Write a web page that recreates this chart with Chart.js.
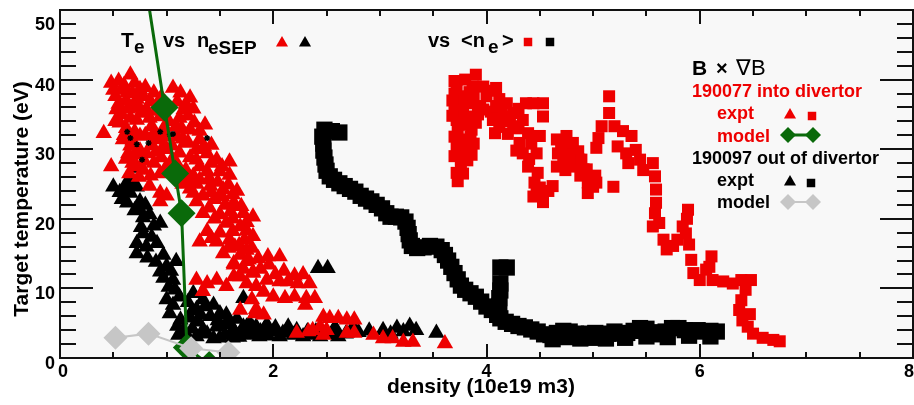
<!DOCTYPE html>
<html>
<head>
<meta charset="utf-8">
<script src="https://cdn.jsdelivr.net/npm/chart.js@4.4.1/dist/chart.umd.min.js"></script>
<style>
  html, body { margin: 0; padding: 0; background: #fff; }
  #box { width: 914px; height: 405px; }
</style>
</head>
<body>
<div id="box"><canvas id="tempChart" width="914" height="405"></canvas></div>
<script>
// axis ticks
const xTicks = [0, 2, 4, 6, 8];
const yTicks = [0, 10, 20, 30, 40, 50];

// 190077 (into divertor), Te vs neSEP
const red077Sep = [
  [0.48,39.5],[0.55,39.8],[0.66,40.7],[0.58,38.6],[0.70,39.5],[0.75,38.6],[0.52,37.6],[0.63,38.1],[0.78,37.6],[0.88,38.1],
  [1.06,38.8],[1.13,38.1],[1.22,37.4],[0.95,37.5],[0.62,37.0],[0.72,37.2],[0.85,36.8],[0.53,35.7],[0.69,36.2],[0.81,35.7],
  [0.94,34.7],[1.16,35.7],[0.58,35.0],[0.66,34.5],[0.77,35.2],[0.90,35.5],[1.02,34.0],[1.12,34.5],[1.20,34.8],[0.41,32.3],
  [0.56,33.8],[0.72,34.2],[0.86,33.3],[0.59,31.4],[0.75,31.9],[0.91,31.4],[1.09,33.3],[1.22,32.8],[1.31,32.6],[1.17,30.9],
  [1.31,31.4],[0.62,33.0],[0.70,32.5],[0.80,32.0],[0.98,31.8],[1.05,30.5],[1.15,31.5],[1.28,30.0],[0.64,29.4],[0.81,29.4],
  [0.97,30.4],[0.66,30.5],[0.75,29.8],[0.86,30.5],[0.95,28.8],[1.05,28.5],[1.12,29.5],[1.22,28.8],[0.72,27.5],[0.88,28.0],
  [1.38,29.4],[1.47,28.5],[1.59,28.2],[0.48,27.5],[1.31,27.5],[1.50,26.8],[1.59,26.3],[0.68,28.0],[0.78,27.0],[0.85,26.2],
  [1.18,27.0],[1.25,26.2],[1.38,26.8],[1.31,25.6],[1.41,24.7],[1.53,24.2],[0.94,26.5],[0.84,24.7],[0.94,23.7],[1.00,23.3],
  [1.25,23.7],[1.34,23.3],[1.63,22.3],[1.70,21.8],[1.15,25.0],[1.22,24.3],[1.45,22.8],[1.55,22.0],[1.62,23.5],
  [0.50,38.5],[0.60,39.2],[0.68,38.0],[0.80,38.9],[0.92,36.5],[1.00,36.2],[1.10,36.8],[1.18,36.5],[1.25,35.8],
  [0.55,36.5],[0.64,35.8],[0.74,36.0],[0.84,34.5],[0.98,33.2],[1.14,33.0],[1.26,33.8],[1.36,33.5],
  [0.52,34.0],[0.60,32.0],[0.68,31.2],[0.88,32.3],[1.00,30.0],[1.10,31.8],[1.20,31.0],[1.35,30.4],[1.42,30.6],
  [0.62,28.6],[0.70,29.2],[0.79,28.3],[0.90,29.6],[1.00,27.5],[1.10,27.8],[1.28,28.5],[1.42,28.0],[1.52,27.5],
  [0.65,26.5],[0.74,26.0],[1.20,25.6],[1.28,25.0],[1.40,25.8],[1.48,25.3],[1.58,24.9],[1.66,24.0],[1.42,23.8],[1.52,23.2],
  [0.94,22.5],[1.28,22.5],[1.34,20.8],[1.50,20.6],[1.63,21.8],[1.72,20.8],[1.81,20.3],[1.56,19.4],[1.69,18.9],[1.38,18.2],
  [1.31,16.7],[1.47,16.7],[1.59,17.0],[1.73,17.0],[1.81,17.5],[1.53,15.0],[1.69,14.8],[1.63,13.4],[1.75,13.9],[1.81,12.4],
  [1.28,11.2],[1.38,10.7],[1.47,11.2],[1.56,10.3],[1.34,9.6],[1.63,11.7],[1.75,10.7],[1.84,10.3],[1.80,8.4],[1.84,7.0],
  [1.60,21.0],[1.40,21.6],[1.45,20.0],[1.62,20.0],[1.75,19.5],[1.50,18.0],[1.62,18.2],[1.75,18.3],[1.42,17.2],[1.58,15.8],
  [1.68,16.2],[1.80,15.8],[1.86,14.3],[1.72,12.8],[1.88,12.8],[1.96,13.4],[2.02,12.0],[2.10,12.5],[2.20,11.8],[2.28,12.0],
  [1.64,16.0],[1.75,15.5],[1.63,13.6],[1.77,14.1],[1.95,14.6],[2.06,14.6],[1.69,11.7],[1.81,12.2],[1.94,11.2],[2.06,11.0],
  [2.14,11.0],[2.23,10.7],[2.34,10.7],[1.91,9.5],[2.00,8.8],[2.11,8.6],[2.20,8.8],[2.31,8.6],[2.39,8.6],[2.30,7.6],
  [1.69,6.9],[1.83,6.4],[1.91,6.2],[2.47,5.9],[2.53,5.7],[2.61,5.7],[2.69,5.5],[2.76,5.5],[2.44,4.5],[2.37,4.0],
  [2.50,4.0],[2.22,3.6],[2.33,3.8],[2.47,3.3],[2.69,3.6],[2.76,3.6],[2.94,3.3],[3.03,2.8],[3.12,2.8],[3.22,2.3],
  [3.31,2.3],[3.61,2.1]
];

// 190097 (out of divertor), Te vs neSEP
const black097Sep = [
  [0.50,24.6],[0.63,25.3],[0.72,24.6],[0.56,23.8],[0.66,23.7],[0.75,22.5],[0.70,27.3],[0.58,22.8],
  [0.60,24.2],[0.68,25.0],[0.80,22.0],[0.70,21.2],[0.78,20.2],[0.88,19.0],[0.86,17.4],[0.76,18.8],[0.82,14.4],[0.90,13.8],
  [0.94,12.4],[1.04,12.5],[1.02,10.2],[1.12,8.8],[1.06,7.6],[1.10,4.6],
  [0.63,22.3],[0.75,21.3],[0.84,20.6],[0.94,19.4],[0.78,17.9],[0.72,16.5],[0.81,16.0],[0.91,16.5],[0.72,15.0],[0.97,14.8],
  [1.09,13.9],[1.00,13.2],[0.97,11.5],[1.06,11.2],[1.08,9.8],[1.00,8.4],[1.03,6.4],[1.13,5.5],[1.16,4.0],[1.11,3.3],
  [1.25,9.3],[1.34,8.4],[1.28,7.0],[1.41,6.0],[1.50,6.4],[1.34,4.0],[1.47,4.5],[1.56,5.0],[1.63,4.0],[1.72,8.6],
  [1.75,4.5],[1.81,3.6],[1.84,4.5],[1.28,3.1],[1.44,2.8],[1.22,5.8],[1.30,5.2],[1.38,3.5],[1.55,3.3],[1.68,3.0],
  [1.20,8.0],[1.24,6.8],[1.32,6.2],[1.36,7.4],[1.44,7.6],[1.48,5.4],[1.56,6.2],[1.60,4.8],[1.66,5.6],[1.70,3.8],
  [1.78,5.0],[1.88,3.8],[1.95,3.2],[2.02,4.4],[2.12,3.8],[2.22,4.0],[2.32,3.8],[2.40,3.8],[2.50,3.4],[2.58,4.4],
  [2.68,3.5],[2.80,3.7],[2.90,3.9],[3.10,3.5],[3.28,4.6],[1.24,4.2],[1.20,3.0],[1.50,2.9],[1.62,2.9],
  [1.62,4.0],[1.72,4.5],[1.81,4.3],[1.91,4.0],[2.00,3.8],[2.09,3.6],[2.19,3.3],[2.28,3.1],[2.36,3.3],[2.44,3.1],
  [2.55,3.6],[2.61,3.1],[1.65,3.1],[1.78,3.3],[1.87,3.1],[2.06,3.1],[1.94,4.8],[2.14,4.5],[2.42,12.9],[2.51,12.9],
  [2.75,4.5],[3.03,4.0],[3.16,4.3],[3.22,3.8],[3.34,4.0],[3.53,3.6]
];

// small black markers inside the 190077 cloud
const blackStars = [
  [0.63,32.5],[0.66,31.6],[0.83,30.9],[0.94,32.5],[1.06,32.2],[1.38,31.6],[0.77,28.5],[0.72,30.7],[1.03,32.1]
];

// 190077, Te vs <ne>
const red077Avg = [
  [3.72,39.0],[3.90,40.7],[3.87,39.0],[3.75,37.6],[3.70,36.1],[3.84,36.6],[3.72,34.2],[3.84,34.7],[3.73,32.8],[3.86,32.8],
  [3.78,31.4],[3.81,29.9],[3.76,28.5],[3.76,27.5],[3.73,25.4],[3.70,38.0],[3.74,35.2],[3.80,33.5],[3.78,36.8],[3.88,37.8],
  [3.92,35.0],[3.80,30.5],[3.85,31.8],[3.75,29.2],[3.82,28.4],[3.78,26.5],
  [3.70,39.8],[3.80,40.0],[3.84,38.2],[3.68,37.0],[3.78,35.6],[3.68,34.8],[3.76,33.8],[3.90,33.8],[3.70,31.8],[3.88,30.8],
  [3.72,30.6],[3.70,29.0],[3.86,29.2],[3.72,26.6],[3.94,36.2],[4.02,38.4],[4.12,37.2],[4.04,35.4],[4.14,35.6],[4.22,34.0],
  [4.30,35.8],[4.44,36.6],[4.12,33.2],[4.20,32.2],[4.30,33.0],[4.42,30.8],[4.28,29.8],[4.40,28.6],[4.45,25.2],[4.50,24.5],
  [4.58,24.0],[4.70,30.6],[4.76,29.8],[4.74,27.0],[4.86,29.7],[4.88,26.2],[5.02,26.2],[4.95,25.2],
  [3.97,39.0],[4.09,38.8],[4.00,37.6],[3.97,35.7],[4.09,36.2],[4.19,36.6],[4.25,35.2],[4.06,34.2],[4.16,34.7],[4.08,32.3],
  [4.25,33.3],[4.34,34.2],[4.37,36.6],[4.53,36.6],[4.53,34.7],[4.39,32.3],[4.31,30.9],[4.34,29.4],[4.47,29.4],[4.39,27.5],
  [4.48,26.6],[4.50,31.9],[4.47,23.7],[4.53,23.3],[4.62,24.7],[4.44,23.2],[4.53,22.4],
  [4.66,31.4],[4.75,31.9],[4.81,30.9],[4.67,29.4],[4.66,27.5],[4.72,28.5],[4.81,29.0],[4.81,27.5],[4.87,28.5],[4.91,27.1],
  [4.97,25.6],[4.95,23.7],[5.03,25.2],[5.05,31.6],[5.03,30.2],[4.94,27.1],[5.00,24.6],[4.89,28.5],
  [5.15,37.6],[5.15,35.2],[5.08,33.3],[5.20,33.3],[5.28,32.6],[5.36,31.9],[5.23,30.4],[5.31,29.4],[5.40,29.9],[5.44,28.5],
  [5.33,28.0],[5.19,24.6],[5.47,27.0],[5.56,28.0],[5.58,26.1],[5.59,24.2],[5.59,22.3],[5.58,20.8],[5.56,18.9],[5.62,19.4],
  [5.66,17.0],[5.69,15.6],[5.75,16.1],[5.79,17.0],[5.84,18.9],[5.89,21.3],[5.88,20.0],[5.87,17.9],[5.90,16.3],[5.92,14.1],
  [5.94,12.2],[6.00,11.2],[6.06,12.7],[6.11,14.6],[6.09,13.1],[6.12,11.2],[6.22,11.0],[6.31,10.7],[6.39,11.2],[6.48,11.2],
  [6.43,9.8],[6.39,8.3],[6.37,6.9],[6.40,5.4],[6.45,4.5],[6.50,3.5],[6.59,2.9],[6.69,2.6],[6.75,2.4],[6.47,6.3]
];

// 190097, Te vs <ne>
const black097Avg = [
  [2.62,32.4],[2.55,32.6],[2.48,32.8],[2.46,31.8],[2.47,30.8],[2.47,29.8],[2.48,28.8],[2.49,27.8],[2.50,26.9],[2.53,26.1],
  [2.57,25.6],[2.62,25.1],[2.67,24.7],[2.72,24.3],[2.77,23.9],[2.82,23.3],[2.87,22.9],[2.92,22.5],[2.97,22.0],[3.02,21.5],
  [3.06,20.8],[3.10,20.3],[3.15,20.3],[3.20,20.2],[3.24,19.6],[3.26,18.7],[3.27,17.8],[3.28,16.9],[3.30,16.1],[3.35,15.8],
  [3.41,15.9],[3.47,16.1],[3.53,16.0],[3.58,15.5],[3.61,14.8],[3.64,14.0],[3.67,13.1],[3.70,12.2],[3.73,11.3],[3.76,10.4],
  [3.80,9.8],[3.85,9.3],[3.90,8.8],[3.95,8.1],[4.00,7.4],[4.05,6.9],[4.10,6.2],[4.13,5.7],[4.18,5.2],[4.24,4.9],
  [4.30,4.6],[4.36,4.4],[4.42,4.1],[4.48,3.8],[4.54,3.4],[4.60,3.3],[4.66,3.6],[4.72,3.9],[4.78,3.8],[4.84,3.5],
  [4.90,3.3],[4.96,3.5],[5.02,3.6],[5.08,3.4],[5.14,3.5],[5.20,3.8],[5.26,3.5],[5.32,3.6],[5.38,3.9],[5.44,4.3],
  [5.50,4.2],[5.56,3.7],[5.62,3.4],[5.68,3.8],[5.74,4.3],[5.80,4.3],[5.86,4.0],[5.92,3.9],[5.98,4.0],[6.04,3.8],
  [6.10,3.9],[6.16,3.8],
  [4.12,7.5],[4.12,8.6],[4.13,9.7],[4.13,10.7],[4.13,13.0],[4.19,13.0],
  [4.62,2.7],[4.75,3.0],[4.88,2.8],[5.00,2.9],[5.12,2.8],[5.30,2.9],[5.50,3.1],[5.70,3.0],[5.90,3.2],[6.10,3.1]
];

// model curves
const greenModel = [[0.82,52.0],[0.98,36.0],[1.08,26.5],[1.14,20.8],[1.19,1.5],[1.40,-1.0]];
const greyModel = [[0.52,2.9],[0.83,3.5],[1.23,1.4],[1.58,0.8]];

const RED = '#ee0000';
const GREEN = '#0a6a0a';
const GREY = '#c6c6c6';
const FONT = '"Liberation Sans", Arial, Helvetica, sans-serif';

function marker(ctx, style, x, y, r, color) {
  ctx.fillStyle = color;
  ctx.beginPath();
  if (style === 'triangle') {
    ctx.moveTo(x, y - r);
    ctx.lineTo(x + r * 0.866, y + r * 0.5);
    ctx.lineTo(x - r * 0.866, y + r * 0.5);
  } else if (style === 'rect') {
    const s = r * Math.SQRT1_2;
    ctx.rect(x - s, y - s, 2 * s, 2 * s);
  } else {
    ctx.moveTo(x, y - r); ctx.lineTo(x + r, y); ctx.lineTo(x, y + r); ctx.lineTo(x - r, y);
  }
  ctx.closePath();
  ctx.fill();
}

function text(ctx, str, x, y, size, color, weight) {
  ctx.font = (weight || 'bold') + ' ' + size + 'px ' + FONT;
  ctx.fillStyle = color;
  ctx.fillText(str, x, y);
}

const framePlugin = {
  id: 'frame',
  beforeDraw(chart) {
    const { ctx, chartArea: a } = chart;
    ctx.save();
    ctx.fillStyle = '#ffffff';
    ctx.fillRect(0, 0, chart.width, chart.height);
    ctx.fillStyle = '#f8f8f8';
    ctx.fillRect(a.left, a.top, a.right - a.left, a.bottom - a.top);
    ctx.restore();
  },
  afterDraw(chart) {
    const { ctx, chartArea: a } = chart;
    const xs = chart.scales.x, ys = chart.scales.y;
    ctx.save();
    ctx.strokeStyle = '#111';
    ctx.lineWidth = 2;
    ctx.strokeRect(a.left, a.top, a.right - a.left, a.bottom - a.top);

    // inward ticks on all four sides
    ctx.beginPath();
    for (let v = 0; v <= 8.001; v += 0.5) {
      const px = Math.round(xs.getPixelForValue(v));
      const len = Math.abs(v % 2) < 0.01 ? 14 : 6;
      ctx.moveTo(px, a.bottom); ctx.lineTo(px, a.bottom - len);
      ctx.moveTo(px, a.top); ctx.lineTo(px, a.top + len);
    }
    for (let v = 0; v <= 50; v += 2) {
      const py = Math.round(ys.getPixelForValue(v));
      const len = v % 10 === 0 ? 33 : 16;
      ctx.moveTo(a.left, py); ctx.lineTo(a.left + len, py);
      ctx.moveTo(a.right, py); ctx.lineTo(a.right - len, py);
    }
    ctx.stroke();

    // tick labels
    ctx.textBaseline = 'middle';
    ctx.textAlign = 'center';
    xTicks.forEach(v => {
      const shift = v === 0 ? 3 : (v === 8 ? -4 : 0);
      text(ctx, String(v), xs.getPixelForValue(v) + shift, a.bottom + 14, 18, '#000');
    });
    ctx.textAlign = 'right';
    yTicks.forEach(v => {
      const py = ys.getPixelForValue(v) + (v === 50 ? 15 : 6);
      text(ctx, String(v), a.left - 5, py, 18, '#000');
    });

    // axis titles
    ctx.textAlign = 'center';
    ctx.textBaseline = 'alphabetic';
    text(ctx, 'density (10e19 m3)', 481, 393, 21, '#000');
    ctx.save();
    ctx.translate(28, 199);
    ctx.rotate(-Math.PI / 2);
    text(ctx, 'Target temperature (eV)', 0, 0, 21, '#000');
    ctx.restore();

    // header line
    ctx.textAlign = 'left';
    text(ctx, 'T', 121, 47, 21, '#000');
    text(ctx, 'e', 134, 53, 19, '#000');
    text(ctx, 'vs', 163, 47, 20, '#000');
    text(ctx, 'n', 197, 47, 20, '#000');
    text(ctx, 'eSEP', 208, 54, 19, '#000');
    marker(ctx, 'triangle', 282, 43, 7, RED);
    marker(ctx, 'triangle', 305, 43, 7, '#000');
    text(ctx, 'vs', 428, 47, 20, '#000');
    text(ctx, '<n', 461, 47, 20, '#000');
    text(ctx, 'e', 488, 53, 19, '#000');
    text(ctx, '>', 502, 47, 20, '#000');
    marker(ctx, 'rect', 528, 42, 6, RED);
    marker(ctx, 'rect', 550, 42, 6, '#000');

    // key on the right
    text(ctx, 'B', 692, 75, 21, '#000');
    text(ctx, '\u00d7', 716, 75, 20, '#000');
    text(ctx, '\u2207B', 736, 75, 22, '#000', 'normal');
    text(ctx, '190077 into divertor', 692, 97, 18, RED);
    text(ctx, 'expt', 717, 119, 18, RED);
    marker(ctx, 'triangle', 790, 115, 7, RED);
    marker(ctx, 'rect', 812, 116, 6, RED);
    text(ctx, 'model', 717, 142, 18, RED);
    ctx.strokeStyle = GREEN; ctx.lineWidth = 3;
    ctx.beginPath(); ctx.moveTo(788, 135); ctx.lineTo(813, 135); ctx.stroke();
    marker(ctx, 'diamond', 788, 135, 8, GREEN);
    marker(ctx, 'diamond', 813, 135, 8, GREEN);
    text(ctx, '190097 out of divertor', 692, 164, 18, '#000');
    text(ctx, 'expt', 717, 186, 18, '#000');
    marker(ctx, 'triangle', 790, 182, 7, '#000');
    marker(ctx, 'rect', 811, 183, 6, '#000');
    text(ctx, 'model', 717, 208, 18, '#000');
    ctx.strokeStyle = GREY; ctx.lineWidth = 2;
    ctx.beginPath(); ctx.moveTo(788, 202); ctx.lineTo(813, 202); ctx.stroke();
    marker(ctx, 'diamond', 788, 202, 8, GREY);
    marker(ctx, 'diamond', 813, 202, 8, GREY);
    ctx.restore();
  }
};

function pts(data, color, style, radius, order) {
  return {
    data: data,
    order: order,
    showLine: false,
    pointStyle: style,
    pointRadius: radius,
    pointHoverRadius: radius,
    pointBackgroundColor: color,
    pointBorderColor: color,
    pointBorderWidth: 0
  };
}

const ctx = document.getElementById('tempChart').getContext('2d');
new Chart(ctx, {
  type: 'scatter',
  data: {
    datasets: [
      {
        data: greyModel, order: 0, showLine: true,
        borderColor: GREY, borderWidth: 2,
        pointStyle: 'rectRot', pointRadius: 12, pointBackgroundColor: GREY, pointBorderWidth: 0
      },
      {
        data: greenModel, order: 1, showLine: true,
        borderColor: GREEN, borderWidth: 3,
        pointStyle: 'rectRot', pointRadius: 14, pointBackgroundColor: GREEN, pointBorderWidth: 0
      },
      Object.assign(pts(blackStars, '#000', 'star', 3, 2), { pointBorderWidth: 1.5 }),
      pts(red077Sep, RED, 'triangle', 9.5, 3),
      pts(black097Sep, '#000', 'triangle', 9.5, 4),
      pts(red077Avg, RED, 'rect', 8.5, 5),
      pts(black097Avg, '#000', 'rect', 11.5, 6)
    ]
  },
  options: {
    responsive: false,
    animation: false,
    devicePixelRatio: 1,
    layout: { autoPadding: false, padding: { top: 10, right: 1, left: 0, bottom: 0 } },
    plugins: { legend: { display: false }, tooltip: { enabled: false } },
    events: [],
    scales: {
      x: {
        type: 'linear', min: 0, max: 8,
        grid: { display: false, drawTicks: false },
        border: { display: false },
        ticks: { display: false },
        afterFit: s => { s.height = 47; }
      },
      y: {
        type: 'linear', min: 0, max: 50,
        grid: { display: false, drawTicks: false },
        border: { display: false },
        ticks: { display: false },
        afterFit: s => { s.width = 60; }
      }
    }
  },
  plugins: [framePlugin]
});
</script>
</body>
</html>
